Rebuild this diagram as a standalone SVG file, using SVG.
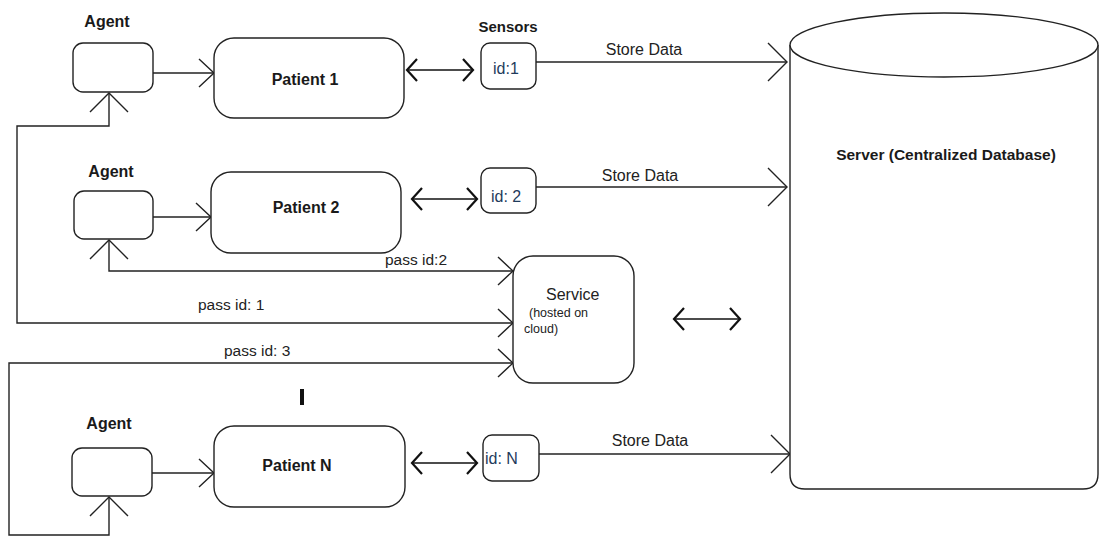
<svg xmlns="http://www.w3.org/2000/svg" width="1100" height="536" viewBox="0 0 1100 536">
<style>
.box{fill:#fff;stroke:#222;stroke-width:1.4}
.ln{fill:none;stroke:#222;stroke-width:1.4}
.dbl{fill:none;stroke:#111;stroke-width:1.7}
.b{font-family:"Liberation Sans",Arial,sans-serif;font-weight:bold;fill:#1a1a1a}
.r{font-family:"Liberation Sans",Arial,sans-serif;fill:#222}
.id{font-family:"Liberation Sans",Arial,sans-serif;fill:#1f3b5c;font-size:16px}
</style>
<defs>
<marker id="aSm" viewBox="-25 -25 50 50" markerWidth="50" markerHeight="50" refX="0" refY="0" markerUnits="userSpaceOnUse" orient="auto">
<path d="M-15,-14 L0,0 L-15,14" fill="none" stroke="#222" stroke-width="1.4"/>
</marker>
<marker id="aLg" viewBox="-25 -25 50 50" markerWidth="50" markerHeight="50" refX="0" refY="0" markerUnits="userSpaceOnUse" orient="auto-start-reverse">
<path d="M-19,-19 L0,0 L-19,19" fill="none" stroke="#222" stroke-width="1.4"/>
</marker>
<marker id="aDb" viewBox="-25 -25 50 50" markerWidth="50" markerHeight="50" refX="0" refY="0" markerUnits="userSpaceOnUse" orient="auto-start-reverse">
<path d="M-10,-11 L0,0 L-10,11" fill="none" stroke="#111" stroke-width="2.2"/>
</marker>
</defs>
<rect width="1100" height="536" fill="#fff"/>

<g id="connectors">
<line class="ln" x1="153" y1="73" x2="214" y2="73" marker-end="url(#aSm)"/>
<line class="ln" x1="153" y1="217" x2="211" y2="217" marker-end="url(#aSm)"/>
<line class="ln" x1="152" y1="473" x2="214" y2="473" marker-end="url(#aSm)"/>
<line class="dbl" x1="407" y1="70" x2="473" y2="70" marker-start="url(#aDb)" marker-end="url(#aDb)"/>
<line class="dbl" x1="412" y1="199" x2="477" y2="199" marker-start="url(#aDb)" marker-end="url(#aDb)"/>
<line class="dbl" x1="412" y1="463" x2="477" y2="463" marker-start="url(#aDb)" marker-end="url(#aDb)"/>
<line class="dbl" x1="674" y1="319" x2="740" y2="319" marker-start="url(#aDb)" marker-end="url(#aDb)"/>
<line class="ln" x1="536" y1="62" x2="787" y2="62" marker-end="url(#aLg)"/>
<line class="ln" x1="536" y1="187" x2="787" y2="187" marker-end="url(#aLg)"/>
<line class="ln" x1="539" y1="454" x2="790" y2="454" marker-end="url(#aLg)"/>
<path class="ln" d="M109,93 L109,126 L17,126 L17,323 L513,323" marker-start="url(#aLg)" marker-end="url(#aSm)"/>
<path class="ln" d="M109,240 L109,271 L513,271" marker-start="url(#aLg)" marker-end="url(#aSm)"/>
<path class="ln" d="M109,497 L109,535 L9,535 L9,363 L513,363" marker-start="url(#aLg)" marker-end="url(#aSm)"/>
<text class="r" x="644" y="55" font-size="16" text-anchor="middle">Store Data</text>
<text class="r" x="640" y="181" font-size="16" text-anchor="middle">Store Data</text>
<text class="r" x="650" y="446" font-size="16" text-anchor="middle">Store Data</text>
<text class="r" x="385" y="265" font-size="15.5">pass id:2</text>
<text class="r" x="198" y="310" font-size="15.5">pass id: 1</text>
<text class="r" x="224" y="356" font-size="15.5">pass id: 3</text>
<line x1="302" y1="389" x2="302" y2="405" stroke="#111" stroke-width="4"/>
</g>

<g id="agent1">
<text class="b" x="107" y="27" font-size="16" text-anchor="middle">Agent</text>
<rect class="box" x="73" y="43" width="80" height="49" rx="10"/>
</g>
<g id="agent2">
<text class="b" x="111" y="177" font-size="16" text-anchor="middle">Agent</text>
<rect class="box" x="74" y="191" width="79" height="48" rx="10"/>
</g>
<g id="agentN">
<text class="b" x="109" y="429" font-size="16" text-anchor="middle">Agent</text>
<rect class="box" x="72" y="448" width="80" height="48" rx="10"/>
</g>

<g id="patient1">
<rect class="box" x="214" y="38" width="190" height="80" rx="20"/>
<text class="b" x="305" y="85" font-size="16" text-anchor="middle">Patient 1</text>
</g>
<g id="patient2">
<rect class="box" x="211" y="172" width="190" height="81" rx="20"/>
<text class="b" x="306" y="213" font-size="16" text-anchor="middle">Patient 2</text>
</g>
<g id="patientN">
<rect class="box" x="214" y="426" width="191" height="81" rx="20"/>
<text class="b" x="297" y="471" font-size="16" text-anchor="middle">Patient N</text>
</g>

<g id="sensor1">
<text class="b" x="508" y="32" font-size="15" text-anchor="middle">Sensors</text>
<rect class="box" x="481" y="43" width="55" height="46" rx="9"/>
<text class="id" x="493" y="74">id:1</text>
</g>
<g id="sensor2">
<rect class="box" x="481" y="168" width="55" height="45" rx="9"/>
<text class="id" x="491" y="202">id: 2</text>
</g>
<g id="sensorN">
<rect class="box" x="483" y="435" width="56" height="46" rx="9"/>
<text class="id" x="485" y="464">id: N</text>
</g>

<g id="service">
<rect class="box" x="513" y="256" width="121" height="127" rx="20"/>
<text class="r" x="546" y="300" font-size="16">Service</text>
<text class="r" x="529" y="317" font-size="12.5">(hosted on</text>
<text class="r" x="524" y="333" font-size="12.5">cloud)</text>
</g>

<g id="server">
<path class="box" d="M790,45 L790,474 Q790,489 805,489 L1083,489 Q1098,489 1098,474 L1098,45"/>
<ellipse class="box" cx="944" cy="45" rx="154" ry="32"/>
<text class="b" x="946" y="160" font-size="15.5" text-anchor="middle">Server (Centralized Database)</text>
</g>
</svg>
